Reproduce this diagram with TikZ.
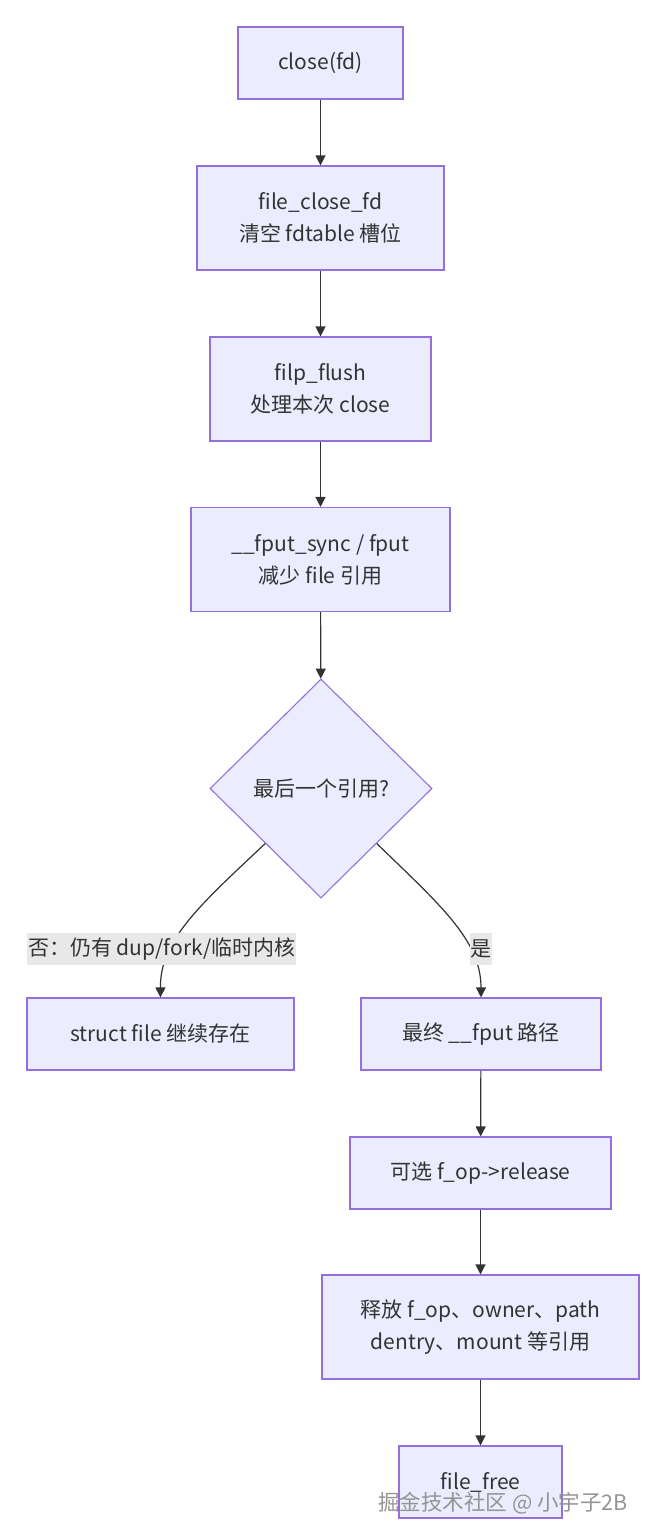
\documentclass[tikz,border=0pt]{standalone}
\usepackage{fontspec}
\setmainfont{Noto Sans CJK SC}
\usetikzlibrary{shapes.geometric,arrows.meta,calc}
\definecolor{nodefill}{HTML}{ECECFF}
\definecolor{nodeborder}{HTML}{9370DB}
\definecolor{edgec}{HTML}{333333}
\definecolor{labelbg}{HTML}{E8E8E8}
\definecolor{txt}{HTML}{333333}
\tikzset{
  box/.style={draw=nodeborder, fill=nodefill, line width=1.1pt, inner sep=0pt,
    align=center, text=txt, font=\fontsize{21}{32}\selectfont},
  decision/.style={diamond, aspect=1, draw=nodeborder, fill=nodefill, line width=1.1pt,
    inner sep=0pt, text=txt, font=\fontsize{21}{32}\selectfont},
  flow/.style={draw=edgec, line width=1.2pt, -{Triangle[length=10pt,width=10pt]}},
  elabel/.style={fill=labelbg, inner sep=0pt, text=txt, font=\fontsize{21}{24}\selectfont}
}
\begin{document}
\begin{tikzpicture}[x=1pt,y=-1pt]
\useasboundingbox[fill=white] (0,0) rectangle (652,1538);
\node[box, minimum width=165pt, minimum height=72pt] (a) at (320.5,63) {close(fd)};
\node[box, minimum width=247pt, minimum height=104pt] (b) at (320.5,218) {file\_close\_fd\\清空 fdtable 槽位};
\node[box, minimum width=221pt, minimum height=104pt] (c) at (320.5,389) {filp\_flush\\处理本次 close};
\node[box, minimum width=259pt, minimum height=104pt] (d) at (320.5,559.5) {\_\_fput\_sync / fput\\减少 file 引用};
\node[decision, minimum width=222pt, minimum height=219pt] (e) at (321,788.5) {最后一个引用?};
\node[box, minimum width=267pt, minimum height=72pt] (f) at (160.5,1034) {struct file 继续存在};
\node[box, minimum width=240pt, minimum height=72pt] (g) at (481,1034) {最终 \_\_fput 路径};
\node[box, minimum width=261pt, minimum height=72pt] (h) at (480.5,1173) {可选 f\_op->release};
\node[box, minimum width=317pt, minimum height=104pt] (i) at (480.5,1327) {释放 f\_op、owner、path\\dentry、mount 等引用};
\node[box, minimum width=163pt, minimum height=72pt] (j) at (480.5,1482) {file\_free};

\draw[flow] (a) -- (b);
\draw[flow] (b) -- (c);
\draw[flow] (c) -- (d);
\draw[flow] (d) -- (e);
\coordinate (el) at ($(e.west)!0.5!(e.south)$);
\coordinate (er) at ($(e.east)!0.5!(e.south)$);
\draw[flow] (el) .. controls (200,905) and (160,940) .. (f.north);
\draw[flow] (er) .. controls (440,905) and (481,940) .. (g.north);
\draw[flow] (g) -- (h);
\draw[flow] (h) -- (i);
\draw[flow] (i) -- (j);

\begin{scope}
\clip (27,933) rectangle (296,965);
\node[elabel, minimum width=269pt, minimum height=32pt] (ln) at (161.5,949) {};
\node[anchor=west, inner sep=0pt, text=txt, font=\fontsize{21}{24}\selectfont] (lnt) at (28,949) {否：仍有 dup/fork/临时内核};
\end{scope}
\node[elabel, minimum width=22pt, minimum height=32pt] (ly) at (481,949) {是};

\node[inner sep=0pt, text=black!42, font=\fontsize{21.5}{24}\selectfont] (wm) at (503,1503) {掘金技术社区 @ 小宇子2B};
\end{tikzpicture}
\end{document}
